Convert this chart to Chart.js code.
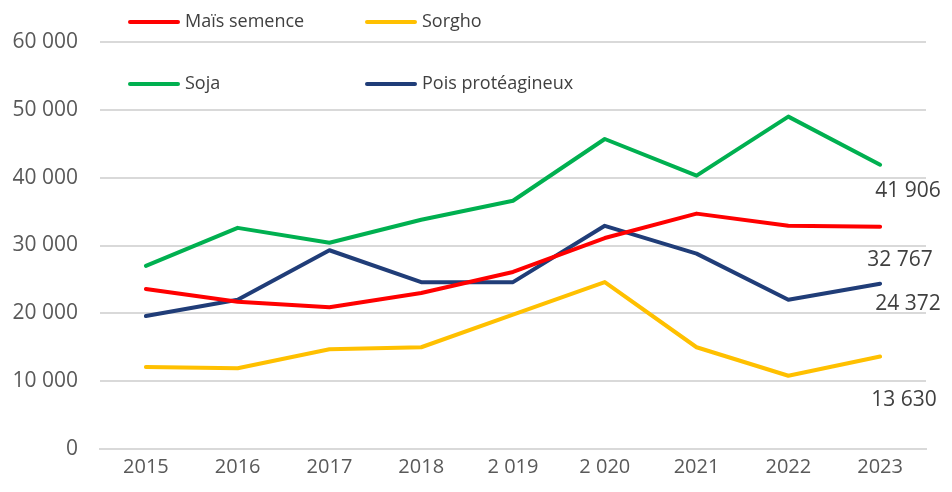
<!DOCTYPE html>
<html>
<head>
<meta charset="utf-8">
<script src="https://cdn.jsdelivr.net/npm/chart.js@4.4.0/dist/chart.umd.min.js"></script>
<style>
  html, body { margin: 0; padding: 0; background: #fff; }
  #wrap { width: 952px; height: 492px; position: relative; }
</style>
</head>
<body>
<div id="wrap"><canvas id="chart"></canvas></div>
<script>
const years = ['2015', '2016', '2017', '2018', '2 019', '2 020', '2021', '2022', '2023']
const maisSemence = [23600, 21700, 20900, 23000, 26100, 31100, 34700, 32900, 32767]
const sorgho = [12100, 11900, 14700, 15000, 19800, 24600, 15000, 10800, 13630]
const soja = [27000, 32600, 30400, 33800, 36600, 45700, 40300, 49000, 41906]
const poisProteagineux = [19600, 22000, 29300, 24600, 24600, 32900, 28800, 22000, 24372]
const yTicks = [0, 10000, 20000, 30000, 40000, 50000, 60000]

const FONT = "'Open Sans', sans-serif"

function formatNombre(v) {
    return String(v).replace(/\B(?=(\d{3})+(?!\d))/g, ' ')
}

// position des étiquettes de fin et de la légende (comme dans Excel)
const labelOffsets = [[20, 33], [24, 43], [28, 26], [28, 20]]
const legendPos = [[130, 22], [367, 22], [130, 84], [367, 84]]

const customPlugin = {
    id: 'custom',
    afterDatasetsDraw(chart) {
        const ctx = chart.ctx
        ctx.save()
        ctx.font = '21px ' + FONT
        ctx.fillStyle = '#404040'
        ctx.textAlign = 'center'
        ctx.textBaseline = 'middle'
        chart.data.datasets.forEach((ds, i) => {
            const meta = chart.getDatasetMeta(i)
            const last = meta.data[meta.data.length - 1]
            const val = ds.data[ds.data.length - 1]
            ctx.fillText(formatNombre(val), last.x + labelOffsets[i][0], last.y + labelOffsets[i][1])
        })

        // légende
        ctx.font = '18px ' + FONT
        ctx.textAlign = 'left'
        ctx.lineCap = 'round'
        chart.data.datasets.forEach((ds, i) => {
            const [x, y] = legendPos[i]
            ctx.strokeStyle = ds.borderColor
            ctx.lineWidth = 4
            ctx.beginPath()
            ctx.moveTo(x, y)
            ctx.lineTo(x + 48, y)
            ctx.stroke()
            ctx.fillStyle = '#404040'
            ctx.fillText(ds.label, x + 55, y)
        })
        ctx.restore()
    }
}

const ctx = document.getElementById('chart').getContext('2d')
new Chart(ctx, {
    type: 'line',
    data: {
        labels: years,
        datasets: [
            { label: 'Maïs semence', data: maisSemence, borderColor: '#FF0000' },
            { label: 'Sorgho', data: sorgho, borderColor: '#FFC000' },
            { label: 'Soja', data: soja, borderColor: '#00B050' },
            { label: 'Pois protéagineux', data: poisProteagineux, borderColor: '#203D78' }
        ].map(d => Object.assign(d, {
            borderWidth: 4,
            pointRadius: 0,
            tension: 0,
            fill: false,
            borderCapStyle: 'round',
            borderJoinStyle: 'round'
        }))
    },
    options: {
        responsive: true,
        maintainAspectRatio: false,
        animation: false,
        layout: { padding: { top: 42, right: 26, left: 0, bottom: 0 } },
        plugins: {
            legend: { display: false },
            tooltip: { enabled: false }
        },
        scales: {
            x: {
                offset: true,
                grid: { display: false, drawTicks: false, offset: true },
                border: { display: true, color: '#D9D9D9', width: 2 },
                ticks: {
                    color: '#595959',
                    font: { family: FONT, size: 20 },
                    padding: 6,
                    maxRotation: 0
                },
                afterFit(scale) { scale.height = 43 }
            },
            y: {
                min: 0,
                max: 60000,
                afterBuildTicks(scale) { scale.ticks = yTicks.map(v => ({ value: v })) },
                grid: { color: '#D9D9D9', lineWidth: 2, drawTicks: false },
                border: { display: false },
                ticks: {
                    color: '#595959',
                    font: { family: FONT, size: 21 },
                    padding: 22,
                    callback: v => formatNombre(v)
                },
                afterFit(scale) { scale.width = 100 }
            }
        }
    },
    plugins: [customPlugin]
})
</script>
</body>
</html>
